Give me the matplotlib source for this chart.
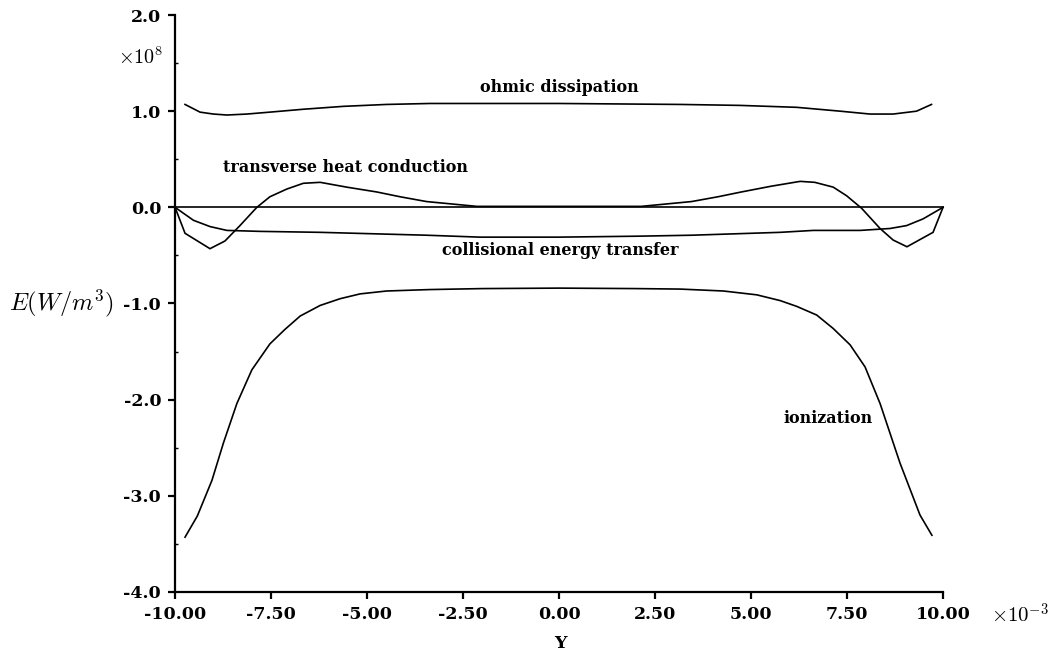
import matplotlib
matplotlib.use("Agg")
import matplotlib.pyplot as plt
from matplotlib.ticker import FixedLocator, FixedFormatter, MultipleLocator

plt.rcParams["mathtext.fontset"] = "cm"

# Energy terms across the channel, Y in units of 1e-3, E in units of 1e8 W/m^3
ohmic_x = [-9.74, -9.35, -9.0, -8.65, -8.13, -7.53, -6.66, -5.62, -4.49, -3.36, 0.0,
           3.15, 4.71, 6.19, 7.32, 8.10, 8.70, 9.31, 9.70]
ohmic_y = [1.07, 0.99, 0.97, 0.96, 0.97, 0.99, 1.02, 1.05, 1.07, 1.08, 1.08,
           1.07, 1.06, 1.04, 1.00, 0.97, 0.97, 1.00, 1.07]

heat_x = [-10.0, -9.74, -9.09, -8.70, -8.31, -7.87, -7.53, -7.09, -6.66, -6.22, -5.53,
          -4.75, -4.14, -3.45, -2.14, -1.0, 0.0, 1.0, 2.14, 3.45, 4.14, 4.75, 5.53,
          6.28, 6.66, 7.14, 7.49, 7.88, 8.36, 8.70, 9.06, 9.74, 10.0]
heat_y = [0.0, -0.27, -0.43, -0.35, -0.19, 0.0, 0.11, 0.19, 0.25, 0.26, 0.21,
          0.16, 0.11, 0.06, 0.01, 0.01, 0.01, 0.01, 0.01, 0.06, 0.11, 0.16, 0.22,
          0.27, 0.26, 0.21, 0.12, -0.01, -0.22, -0.34, -0.41, -0.26, 0.0]

coll_x = [-10.0, -9.52, -9.09, -8.65, -7.79, -6.22, -3.45, -2.06, 0.0, 2.06, 3.45,
          5.76, 6.62, 7.84, 8.62, 9.05, 9.48, 10.0]
coll_y = [0.0, -0.135, -0.20, -0.24, -0.25, -0.26, -0.29, -0.31, -0.31, -0.30, -0.29,
          -0.26, -0.24, -0.24, -0.22, -0.19, -0.12, 0.0]

ion_x = [-9.74, -9.42, -9.04, -8.74, -8.39, -8.0, -7.53, -7.14, -6.74, -6.22, -5.70,
         -5.18, -4.49, -3.36, -2.0, 0.0, 2.0, 3.15, 4.28, 5.15, 5.76, 6.19, 6.71,
         7.14, 7.58, 7.97, 8.36, 8.88, 9.40, 9.71]
ion_y = [-3.43, -3.21, -2.84, -2.45, -2.04, -1.69, -1.42, -1.27, -1.13, -1.02, -0.95,
         -0.90, -0.87, -0.855, -0.845, -0.84, -0.845, -0.85, -0.87, -0.91, -0.97, -1.03, -1.12,
         -1.26, -1.43, -1.66, -2.04, -2.66, -3.20, -3.41]

zero_x = [-10.0, 10.0]
zero_y = [0.0, 0.0]

x_ticks = [-10.0, -7.5, -5.0, -2.5, 0.0, 2.5, 5.0, 7.5, 10.0]
x_labels = ["-10.00", "-7.50", "-5.00", "-2.50", "0.00", "2.50", "5.00", "7.50", "10.00"]
y_ticks = [-4.0, -3.0, -2.0, -1.0, 0.0, 1.0, 2.0]
y_labels = ["-4.0", "-3.0", "-2.0", "-1.0", "0.0", "1.0", "2.0"]

series_labels = ["ohmic dissipation", "transverse heat conduction",
                 "collisional energy transfer", "ionization"]

SERIF = "DejaVu Serif"

fig = plt.figure(figsize=(10.59, 6.61), dpi=100)
ax = fig.add_axes([0.1653, 0.1044, 0.7252, 0.8729])

lw = 1.2
for xs, ys in [(ohmic_x, ohmic_y), (heat_x, heat_y), (coll_x, coll_y),
               (ion_x, ion_y), (zero_x, zero_y)]:
    ax.plot(xs, ys, color="black", lw=lw, solid_joinstyle="miter", clip_on=False)

ax.set_xlim(-10, 10)
ax.set_ylim(-4, 2)

for side in ["top", "right"]:
    ax.spines[side].set_visible(False)
for side in ["left", "bottom"]:
    ax.spines[side].set_linewidth(1.6)

ax.xaxis.set_major_locator(FixedLocator(x_ticks))
ax.xaxis.set_major_formatter(FixedFormatter(x_labels))
ax.yaxis.set_major_locator(FixedLocator(y_ticks))
ax.yaxis.set_major_formatter(FixedFormatter(y_labels))
ax.yaxis.set_minor_locator(MultipleLocator(0.5))
ax.tick_params(axis="both", which="major", direction="out", length=5, width=1.6,
               labelsize=12.5, pad=5)
ax.tick_params(axis="y", which="minor", direction="in", length=2.5, width=1.0)
for lab in ax.get_xticklabels() + ax.get_yticklabels():
    lab.set_fontfamily(SERIF)
    lab.set_fontweight("bold")

# curve annotations
note_kw = dict(fontfamily=SERIF, fontweight="bold", fontsize=11.5,
               ha="center", va="center")
ax.text(0.0, 1.25, series_labels[0], **note_kw)
ax.text(-5.57, 0.41, series_labels[1], **note_kw)
ax.text(0.03, -0.45, series_labels[2], **note_kw)
ax.text(7.0, -2.2, series_labels[3], **note_kw)

# axis titles and scale factors
fig.text(61 / 1059, 1 - 303 / 661, r"$E(W/m^3)$", fontsize=17.5, ha="center", va="center")
fig.text(560 / 1059, 1 - 643 / 661, "Y", fontfamily=SERIF, fontweight="bold",
         fontsize=12.5, ha="center", va="center")
fig.text(141 / 1059, 1 - 57 / 661, r"$\times10^{8}$", fontsize=14.5,
         ha="center", va="center")
fig.text(1020 / 1059, 1 - 615 / 661, r"$\times10^{-3}$", fontsize=15,
         ha="center", va="center")

fig.savefig("out.png", dpi=100, facecolor="white")
